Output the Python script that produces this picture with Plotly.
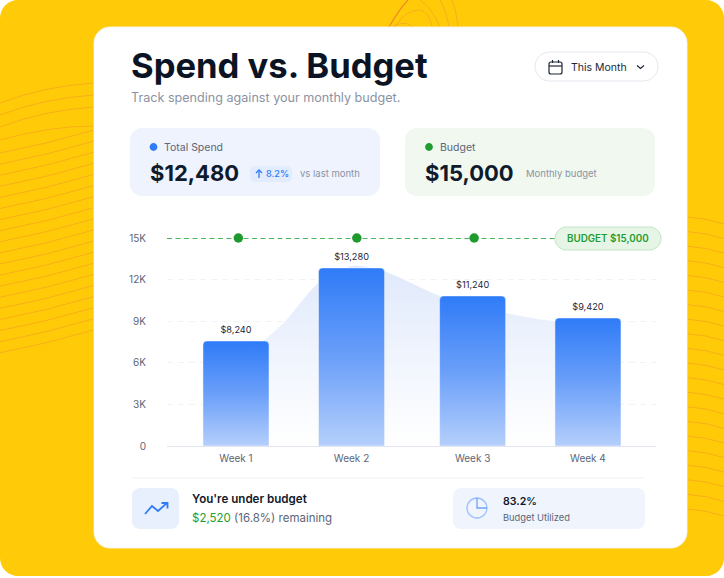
import plotly.graph_objects as go

W, H = 724, 578

# Data
weeks = ["Week 1", "Week 2", "Week 3", "Week 4"]
week_pos = [1, 1.985, 3.017, 4]
bar_height = [7570, 12840, 10820, 9230]
bar_label = ["$8,240", "$13,280", "$11,240", "$9,420"]

area_x = [1, 1.22, 1.43, 1.70, 2, 2.28, 2.74, 3.30, 3.72, 4]
area_y = [7570, 7570, 9090, 11750, 13000, 12550, 10820, 9590, 9010, 9230]

budget = 15000
budget_line_x = [0.412, 3.72]
budget_dot_x = [1.02, 2.03, 3.03]

y_ticks = [0, 3000, 6000, 9000, 12000, 15000]
y_labels = ["0", "3K", "6K", "9K", "12K", "15K"]

FONT = "Inter"
INK = "#0f1a2b"
GREY = "#8b93a3"
SLATE = "#5d6577"
BLUE = "#2f7bf8"
GREEN = "#1f9d2e"


# pixel helpers, everything outside the plot is placed in page pixels
def px(x):
    return x / W


def py(y):
    return 1 - y / H


def pt(x, y):
    return f"{px(x):.5f} {py(y):.5f}"


def rrect(x0, y0, x1, y1, r):
    k = r * 0.45
    return (
        f"M {pt(x0 + r, y0)} L {pt(x1 - r, y0)} "
        f"C {pt(x1 - k, y0)} {pt(x1, y0 + k)} {pt(x1, y0 + r)} L {pt(x1, y1 - r)} "
        f"C {pt(x1, y1 - k)} {pt(x1 - k, y1)} {pt(x1 - r, y1)} L {pt(x0 + r, y1)} "
        f"C {pt(x0 + k, y1)} {pt(x0, y1 - k)} {pt(x0, y1 - r)} L {pt(x0, y0 + r)} "
        f"C {pt(x0, y0 + k)} {pt(x0 + k, y0)} {pt(x0 + r, y0)} Z"
    )


shapes = []


def box(x0, y0, x1, y1, r, fill, line=None, lw=1):
    shapes.append(dict(type="path", xref="paper", yref="paper", path=rrect(x0, y0, x1, y1, r),
                       fillcolor=fill, line=dict(color=line or "rgba(0,0,0,0)", width=lw if line else 0),
                       layer="below"))


def stroke(path, color, lw=1.0):
    shapes.append(dict(type="path", xref="paper", yref="paper", path=path,
                       line=dict(color=color, width=lw), layer="below"))


def dot(cx, cy, r, color):
    box(cx - r, cy - r, cx + r, cy + r, r, color)


def poly(points, color, lw=1.5):
    d = "M " + " L ".join(pt(x, y) for x, y in points)
    stroke(d, color, lw)


def curve(x0, y0, cx, cy, x1, y1, color, lw=0.8):
    stroke(f"M {pt(x0, y0)} Q {pt(cx, cy)} {pt(x1, y1)}", color, lw)


annotations = []


def label(x, y, text, size, color, weight=400, anchor="left"):
    annotations.append(dict(xref="paper", yref="paper", x=px(x), y=py(y), text=text, showarrow=False,
                            xanchor=anchor, yanchor="middle", align=anchor, borderpad=0, borderwidth=0,
                            font=dict(family=FONT, size=size, color=color, weight=weight)))


# yellow backdrop
box(0, 0, W, 576, 18, "#ffcb08")

# orange contour lines on the backdrop
ORANGE = "rgba(240,135,50,0.55)"
for i in range(3):
    curve(0, 103 + i * 12, 45, 86 + i * 12, 94, 83 + i * 12, ORANGE)
curve(0, 140, 50, 126, 94, 126, ORANGE)
for i in range(19):
    y0 = 153 + i * 11.1
    curve(0, y0, 47, y0 - 9, 94, y0 - 23, ORANGE)
for i in range(21):
    y0 = 217 + i * 14.6
    curve(687, y0, 706, y0 + 1, 724, y0 + 7, ORANGE)
curve(389, 27, 400, 8, 408, 0, "rgba(235,120,45,0.8)", 1.2)
curve(395, 27, 405, 10, 420, 10, ORANGE)
curve(420, 10, 430, 12, 432, 27, ORANGE)
curve(392, 27, 400, 22, 408, 24, ORANGE)
curve(408, 24, 410, 25, 412, 27, ORANGE)
curve(420, 0, 432, 8, 440, 27, ORANGE)
curve(440, 0, 446, 10, 449, 27, ORANGE)
curve(452, 0, 456, 10, 458, 27, ORANGE)

# white card
box(94, 27, 687, 548, 16, "#ffffff", "#f4f6fa", 0.8)

# date picker
box(535, 52, 658, 81, 14.5, "#ffffff", "#e3e6ee", 1)
box(549, 62, 562, 74, 2, "#ffffff", "#1d2636", 1.2)
poly([(549, 66), (562, 66)], "#1d2636", 1.2)
poly([(552.5, 60), (552.5, 63)], "#1d2636", 1.2)
poly([(558.5, 60), (558.5, 63)], "#1d2636", 1.2)
poly([(637, 65.5), (640.5, 68.5), (644, 65.5)], "#1d2636", 1.2)

# summary cards
box(130, 128, 380, 196, 12, "#eef3fd")
box(405, 128, 655, 196, 12, "#f0f8f0")
dot(153.5, 147, 3.9, BLUE)
dot(429, 147, 3.9, GREEN)
box(250, 166, 292, 182, 5, "#e2ecfd")
poly([(259, 178), (259, 170)], BLUE, 1.3)
poly([(256, 173), (259, 170), (262, 173)], BLUE, 1.3)

# budget pill
box(555, 227, 661, 250, 11.5, "#e6f5e6", "#c2e5c4", 1)

# footer
poly([(132, 478), (645, 478)], "#f0f1f5", 1.2)
box(132, 488, 179, 529, 8, "#e8f0fd")
poly([(145, 514), (152, 506), (158, 511), (167, 503)], BLUE, 1.8)
poly([(161.5, 503), (167.5, 503), (167.5, 508.5)], BLUE, 1.8)
box(453, 488, 645, 529, 8, "#eff4fd")
box(467, 498, 487, 518, 10, "rgba(0,0,0,0)", "#9cc0fa", 1.3)
poly([(477, 498), (477, 508), (487, 508)], "#6fa3f8", 1.3)

label(131, 65, "Spend vs. Budget", 34.6, "#0b1424", 700)
label(131, 97, "Track spending against your monthly budget.", 12.6, GREY)
label(571, 67, "This Month", 10.5, "#1d2636", 400)
label(164, 147, "Total Spend", 10.5, SLATE, 400)
label(150, 173, "$12,480", 22, INK, 700)
label(266, 174, "8.2%", 9.2, BLUE, 500)
label(300, 174, "vs last month", 9.5, GREY)
label(440, 147, "Budget", 10.5, SLATE, 400)
label(425, 173, "$15,000", 22, INK, 700)
label(526, 174, "Monthly budget", 9.5, GREY)
label(608, 238.5, "BUDGET $15,000", 9.8, GREEN, 600, "center")
label(192, 499, "You're under budget", 11.6, "#10192a", 600)
label(192, 518, f"<span style='color:{GREEN}'>$2,520</span> (16.8%) remaining", 11.5, SLATE)
label(503, 501, "83.2%", 10.6, "#10192a", 600)
label(503, 517, "Budget Utilized", 9.3, SLATE)

fig = go.Figure()

# area sits on the base axes so the bars on the overlay axes draw over it
fig.add_trace(go.Scatter(
    x=area_x, y=area_y, mode="lines", line=dict(width=0, shape="spline", smoothing=0.6),
    fill="tozeroy",
    fillgradient=dict(type="vertical", colorscale=[[0, "rgba(255,255,255,0.9)"], [1, "rgba(222,232,251,0.95)"]]),
    hoverinfo="skip", showlegend=False,
))
fig.add_trace(go.Bar(
    x=week_pos, y=bar_height, width=0.563, xaxis="x2", yaxis="y2",
    marker=dict(color=BLUE, cornerradius=4, line=dict(color="rgba(255,255,255,0.45)", width=1)),
    showlegend=False,
))
# value labels, the invisible marker only sets their gap above the bar
fig.add_trace(go.Scatter(
    x=week_pos, y=bar_height, mode="markers+text", xaxis="x2", yaxis="y2",
    text=bar_label, textposition="top center", cliponaxis=False,
    marker=dict(size=8, opacity=0),
    textfont=dict(family=FONT, size=9.2, color="#1d2636"),
    showlegend=False,
))
fig.add_trace(go.Scatter(
    x=budget_line_x, y=[budget] * len(budget_line_x), mode="lines", xaxis="x2", yaxis="y2",
    line=dict(color="#12a02a", width=1.6, dash="5px,3.5px"), cliponaxis=False, showlegend=False,
))
fig.add_trace(go.Scatter(
    x=budget_dot_x, y=[budget] * len(budget_dot_x), mode="markers", xaxis="x2", yaxis="y2",
    marker=dict(color="#1f9a2e", size=9.5), cliponaxis=False, showlegend=False,
))

x_domain = [px(167), px(656)]
x_range = [0.412, 4.58]
y_domain = [py(446), py(238)]
y_range = [0, budget]

fig.update_layout(
    width=W, height=H,
    margin=dict(l=0, r=0, t=0, b=0, pad=0),
    paper_bgcolor="#ffffff",
    plot_bgcolor="rgba(0,0,0,0)",
    shapes=shapes,
    annotations=annotations,
    xaxis=dict(
        domain=x_domain, range=x_range, automargin=False,
        tickvals=week_pos, ticktext=weeks, ticks="", showgrid=False, zeroline=False,
        showline=True, linecolor="#e2e5ef", linewidth=1.2,
        tickfont=dict(family=FONT, size=10, color=SLATE), ticklabelstandoff=3,
    ),
    yaxis=dict(
        domain=y_domain, range=y_range, automargin=False,
        tickvals=y_ticks, ticktext=y_labels, ticks="", zeroline=False,
        showgrid=True, gridcolor="#f1f3f6", griddash="6px,5px", gridwidth=1,
        tickfont=dict(family=FONT, size=10, color=SLATE), ticklabelstandoff=20,
    ),
    xaxis2=dict(domain=x_domain, range=x_range, overlaying="x", automargin=False, visible=False),
    yaxis2=dict(domain=y_domain, range=y_range, overlaying="y", automargin=False, visible=False),
)

# plotly bars have no gradient fill, so swap the fill on the drawn bars
post = """
document.documentElement.style.margin = '0';
document.body.style.margin = '0';
var gd = document.getElementById('{plot_id}');
var ns = 'http://www.w3.org/2000/svg';
var svg = gd.querySelector('svg.main-svg');
var defs = document.createElementNS(ns, 'defs');
var g = document.createElementNS(ns, 'linearGradient');
g.setAttribute('id', 'barfade'); g.setAttribute('x1', '0'); g.setAttribute('y1', '0');
g.setAttribute('x2', '0'); g.setAttribute('y2', '1');
[['0', '#2f7bf8'], ['0.5', '#6a9ff9'], ['1', '#b5cffb']].forEach(function (s) {
  var stop = document.createElementNS(ns, 'stop');
  stop.setAttribute('offset', s[0]); stop.setAttribute('stop-color', s[1]);
  g.appendChild(stop);
});
defs.appendChild(g); svg.insertBefore(defs, svg.firstChild);
gd.querySelectorAll('.barlayer .point path').forEach(function (p) { p.style.fill = 'url(#barfade)'; });
"""

fig.write_html("out.html", post_script=post, config=dict(displayModeBar=False))
